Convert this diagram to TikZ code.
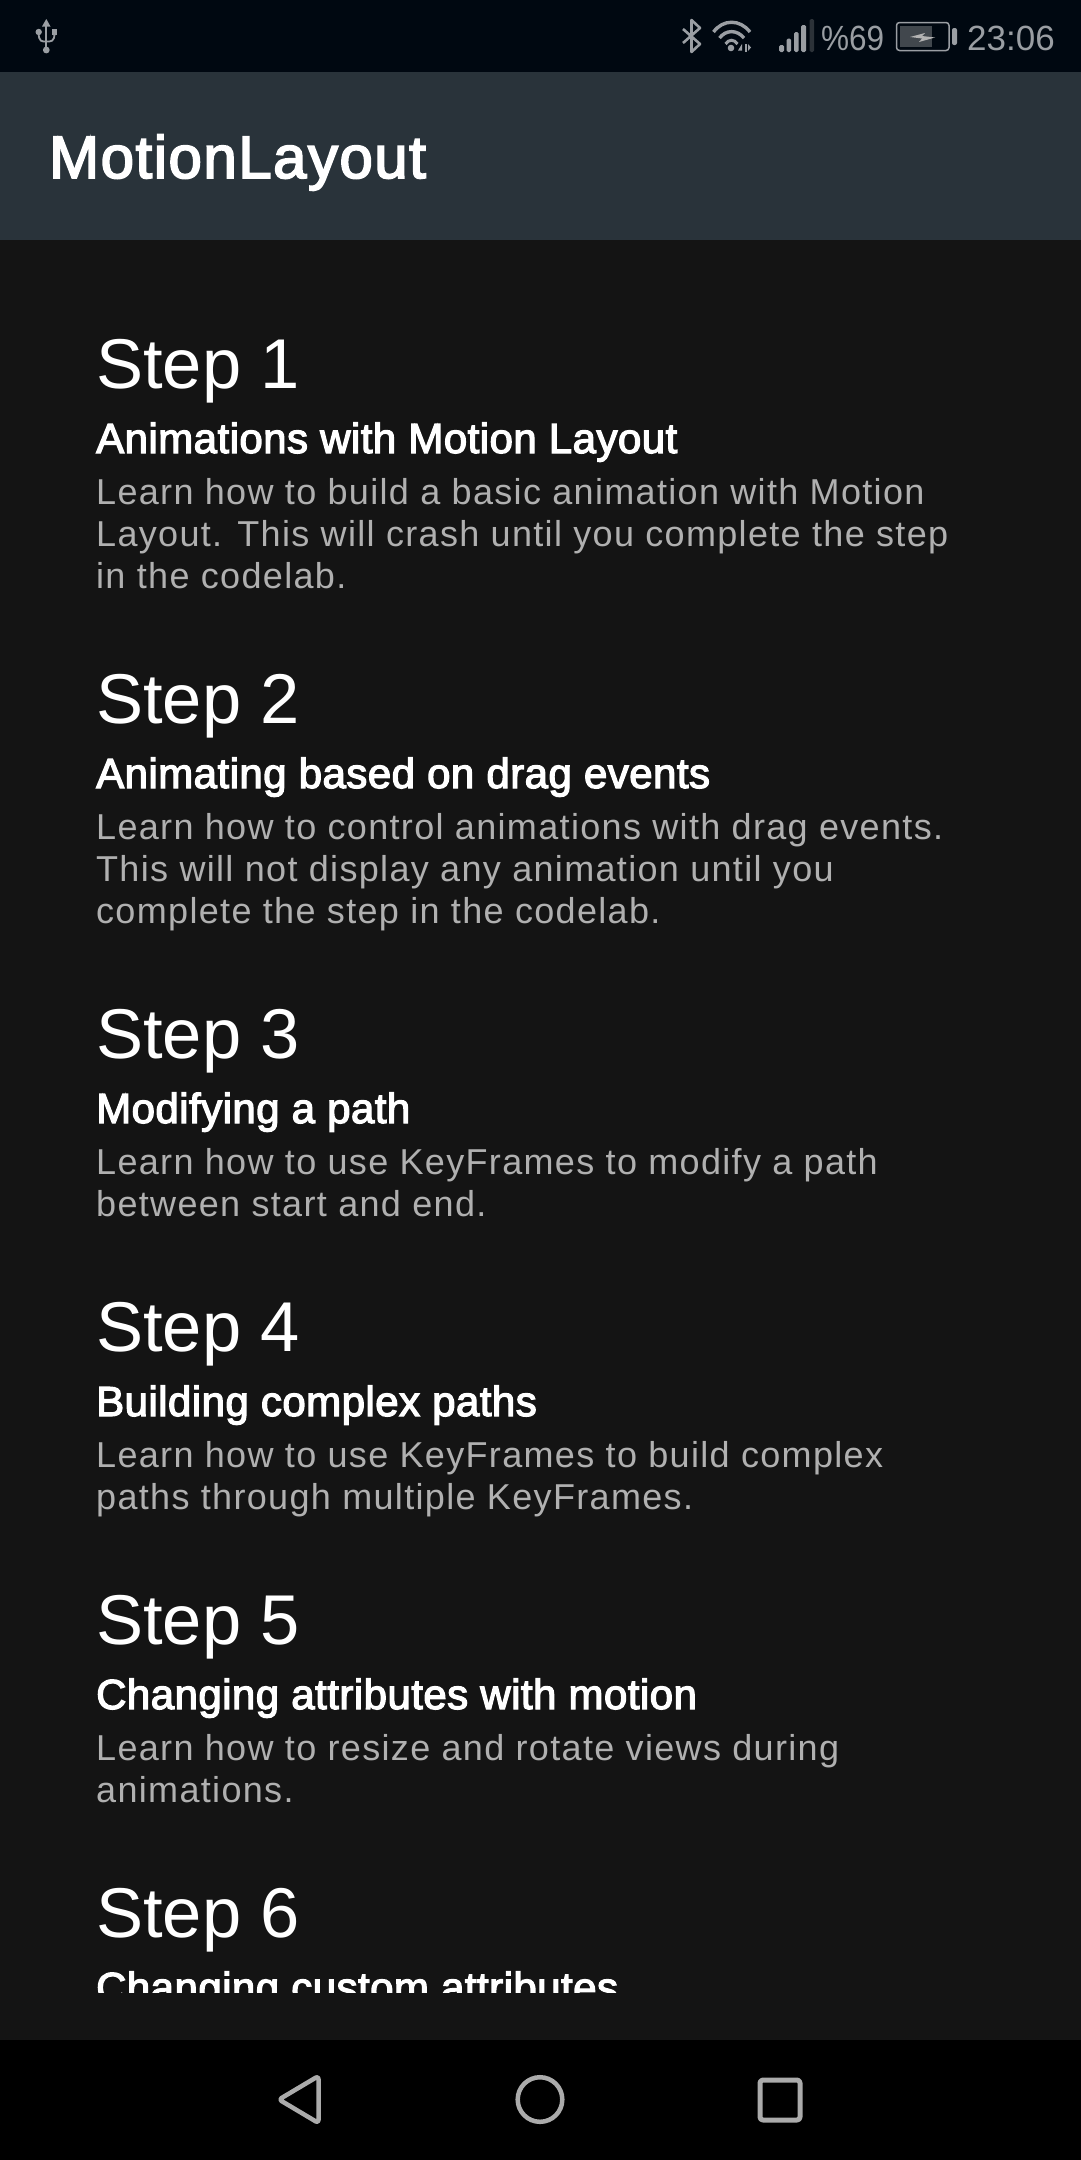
\documentclass[tikz,border=0pt]{standalone}
\usepackage{fontspec}
\setmainfont{Liberation Sans}
\newfontfamily\bodyfont[LetterSpace=3.7]{Liberation Sans}
\newfontfamily\mediumfont[FakeBold=3,LetterSpace=1.1]{Liberation Sans}
\newfontfamily\appfont[FakeBold=3,LetterSpace=2.5]{Liberation Sans}
\definecolor{statusbg}{HTML}{000811}
\definecolor{barbg}{HTML}{29333A}
\definecolor{pagebg}{HTML}{141414}
\definecolor{iconcol}{HTML}{9A9EA3}
\definecolor{darkbar}{HTML}{2C3238}
\definecolor{battfill}{HTML}{41474D}
\definecolor{navcol}{HTML}{ABABAB}
\definecolor{bodycol}{HTML}{B0B0B0}
\tikzset{
  stepnode/.style={anchor=base west,inner sep=0pt,text=white,font=\fontsize{70.5}{71}\selectfont},
  titlenode/.style={anchor=base west,inner sep=0pt,text=white,font=\mediumfont\fontsize{42}{42}\selectfont},
  bodynode/.style={anchor=base west,inner sep=0pt,text=bodycol,font=\bodyfont\fontsize{36}{36}\selectfont},
  statusnode/.style={anchor=base west,inner sep=0pt,text=iconcol,font=\fontsize{35}{35}\selectfont},
  navicon/.style={draw=navcol,line width=4.5pt,line join=round},
}
\begin{document}
\begin{tikzpicture}[x=1pt,y=-1pt]
\useasboundingbox (0,0) rectangle (1080,2160);
% bars and page:
\path[fill=pagebg] (-2,-2) rectangle (1082,2162);
\path[fill=statusbg] (-2,-2) rectangle (1082,72);
\path[fill=barbg] (-2,72) rectangle (1082,240);
\path[fill=black] (-2,2040) rectangle (1082,2162);
% usb icon:
\path[fill=iconcol] (46.3,19) -- (50.5,26.5) -- (42,26.5) -- cycle;
\path[fill=iconcol] (46.3,50) circle (3.4);
\path[fill=iconcol] (38.7,32) circle (3.2);
\path[fill=iconcol] (51.7,29.3) rectangle (57.3,35);
\path[draw=iconcol,line width=1.8pt] (46.3,25) -- (46.3,48);
\path[draw=iconcol,line width=1.8pt] (38.7,33) .. controls (38.7,42) and (42,41.5) .. (46.3,41.5) .. controls (51,41.5) and (54.5,42) .. (54.5,33);
% bluetooth icon:
\path[draw=iconcol,line width=2.6pt,line join=round] (683,29) -- (700,44) -- (691.5,52) -- (691.5,20) -- (700,28) -- (683,43);
% wifi icon:
\path[draw=iconcol,line width=3.4pt] (713.5,32) .. controls (723,19) and (740,19) .. (750,32);
\path[draw=iconcol,line width=3.4pt] (719.5,38) .. controls (726,29.5) and (737,29.5) .. (744,38);
\path[draw=iconcol,line width=3pt] (725.5,44) .. controls (729,39) and (734,39) .. (737.5,44);
\path[fill=iconcol] (731,48) circle (3.3);
\path[fill=iconcol] (738,50.5) -- (742,44) -- (742,50.5) -- cycle;
\path[fill=iconcol] (745,44) rectangle (746.5,52);
\path[fill=iconcol] (748,44) -- (751,47.5) -- (748,51) -- cycle;
% signal bars:
\path[fill=iconcol,rounded corners=1.5pt] (779,45) rectangle (784,52);
\path[fill=iconcol,rounded corners=1.5pt] (786.5,38.5) rectangle (791,52);
\path[fill=iconcol,rounded corners=1.5pt] (794,32) rectangle (798.5,52);
\path[fill=iconcol,rounded corners=1.5pt] (801,25) rectangle (806,52);
\path[fill=darkbar,rounded corners=1.5pt] (809.5,19) rectangle (814,52);
% battery icon:
\path[draw=iconcol,line width=1.5pt,rounded corners=3pt] (896.5,22.5) rectangle (949,50.5);
\path[fill=battfill] (900,26) rectangle (932,47);
\path[fill=iconcol,rounded corners=2pt] (952,28) rectangle (957,45);
\path[fill=navcol!90!white] (910,37) -- (925,33) -- (922,36) -- (935,37.5) -- (919,42) -- (922,38.5) -- cycle;
% status texts:
\node[statusnode] (batterytext) at (821,50) {\scalebox{.9}[1]{\%69}};
\node[statusnode] (clocktext) at (967,50) {23:06};
% app title:
\node[anchor=base west,inner sep=0pt,text=white,font=\appfont\fontsize{60}{60}\selectfont] (apptitle) at (49,178) {MotionLayout};
% list, cut off above the nav bar:
\begin{scope}
\clip (0,240) rectangle (1080,1992);
\node[stepnode] (stepone) at (96,388) {Step 1};
\node[titlenode] (titleone) at (96,453) {Animations with Motion Layout};
\node[bodynode] (bodyonea) at (96,504) {Learn how to build a basic animation with Motion};
\node[bodynode] (bodyoneb) at (96,546) {Layout. This will crash until you complete the step};
\node[bodynode] (bodyonec) at (96,588) {in the codelab.};
\node[stepnode] (steptwo) at (96,723) {Step 2};
\node[titlenode] (titletwo) at (96,788) {Animating based on drag events};
\node[bodynode] (bodytwoa) at (96,839) {Learn how to control animations with drag events.};
\node[bodynode] (bodytwob) at (96,881) {This will not display any animation until you};
\node[bodynode] (bodytwoc) at (96,923) {complete the step in the codelab.};
\node[stepnode] (stepthree) at (96,1058) {Step 3};
\node[titlenode] (titlethree) at (96,1123) {Modifying a path};
\node[bodynode] (bodythreea) at (96,1174) {Learn how to use KeyFrames to modify a path};
\node[bodynode] (bodythreeb) at (96,1216) {between start and end.};
\node[stepnode] (stepfour) at (96,1351) {Step 4};
\node[titlenode] (titlefour) at (96,1416) {Building complex paths};
\node[bodynode] (bodyfoura) at (96,1467) {Learn how to use KeyFrames to build complex};
\node[bodynode] (bodyfourb) at (96,1509) {paths through multiple KeyFrames.};
\node[stepnode] (stepfive) at (96,1644) {Step 5};
\node[titlenode] (titlefive) at (96,1709) {Changing attributes with motion};
\node[bodynode] (bodyfivea) at (96,1760) {Learn how to resize and rotate views during};
\node[bodynode] (bodyfiveb) at (96,1802) {animations.};
\node[stepnode] (stepsix) at (96,1937) {Step 6};
\node[titlenode] (titlesix) at (96,2002) {Changing custom attributes};
\end{scope}
% nav icons:
\path[navicon,rounded corners=3pt] (318.5,2076) -- (279,2099.5) -- (318.5,2123) -- cycle;
\path[navicon] (540,2099.5) circle (22.3);
\path[navicon,line width=5pt,rounded corners=3pt] (760,2080) rectangle (800,2120);
\end{tikzpicture}
\end{document}
